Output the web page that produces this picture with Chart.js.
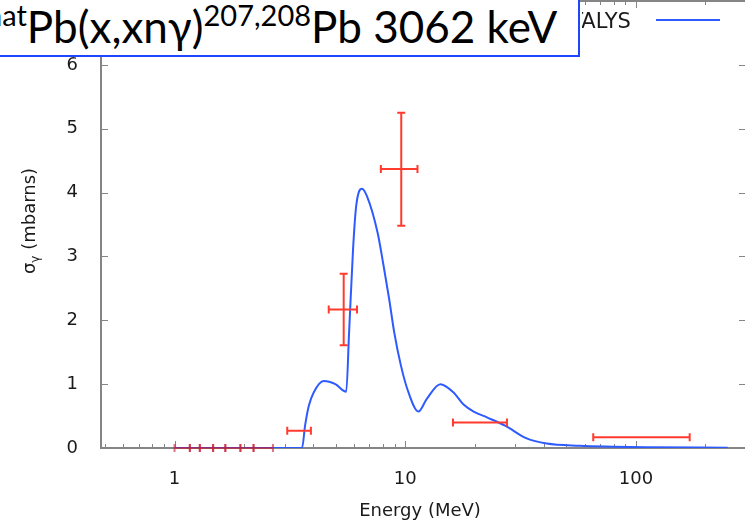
<!DOCTYPE html>
<html><head><meta charset="utf-8">
<script src="https://cdn.jsdelivr.net/npm/chart.js@4.4.0/dist/chart.umd.min.js"></script>
<style>
html,body{margin:0;padding:0;background:#fff;overflow:hidden;}
#wrap{position:relative;width:745px;height:527px;overflow:hidden;background:#fff;}
#c{position:absolute;left:0;top:0;}
#titlebox{position:absolute;left:-10px;top:-10px;width:590px;height:67px;box-sizing:border-box;border:2px solid #1f45ff;background:#fff;}
#title{position:absolute;left:-12px;top:5px;font-family:Lato,"Open Sans",sans-serif;font-size:44px;line-height:43px;white-space:nowrap;color:#000;}
.sup{font-size:29px;position:relative;top:-17px;}
</style></head>
<body>
<div id="wrap">
<canvas id="c" width="750" height="527" style="width:750px;height:527px"></canvas>
<div id="titlebox"></div>
<div id="title"><span class="sup" id="nat">nat</span>Pb(x,xnγ)<span class="sup">207,208</span>Pb 3062 keV</div>
</div>
<script>
// ---- data ----
const talysE     = [1.0, 3.57, 3.68, 3.82, 4.01, 4.43, 4.98, 5.55, 5.71, 5.94, 6.13, 6.49, 6.83, 7.59, 8.06, 8.52, 8.96, 9.58, 10.33, 11.4, 12.4, 14.2, 16.2, 17.9, 19.8, 22.6, 27.1, 33.6, 41, 57, 80, 111, 250];
const talysSigma = [0, 0, 0.35, 0.66, 0.87, 1.05, 1.0, 0.88, 1.81, 3.11, 3.79, 4.06, 3.94, 3.37, 2.85, 2.33, 1.81, 1.29, 0.87, 0.57, 0.77, 1.0, 0.87, 0.68, 0.57, 0.48, 0.35, 0.15, 0.07, 0.035, 0.02, 0.01, 0.005];

const expE       = [1.08, 1.22, 1.38, 1.56, 1.79, 2.06, 2.42, 3.47, 5.41, 9.61, 21.1, 106];
const expELo     = [1.0, 1.165, 1.287, 1.47, 1.66, 1.93, 2.2, 3.08, 4.66, 7.84, 16.1, 65.3];
const expEHi     = [1.165, 1.287, 1.47, 1.66, 1.93, 2.2, 2.67, 3.9, 6.18, 11.3, 27.6, 171];
const expSigma   = [0, 0, 0, 0, 0, 0, 0, 0.27, 2.17, 4.37, 0.40, 0.167];
const expSigLo   = [0, 0, 0, 0, 0, 0, 0, 0.27, 1.61, 3.48, 0.40, 0.167];
const expSigHi   = [0, 0, 0, 0, 0, 0, 0, 0.27, 2.73, 5.25, 0.40, 0.167];

const xTickValues = [1, 10, 100];
const yTickValues = [0, 1, 2, 3, 4, 5, 6];
const seriesName = 'TALYS';
const xTitle = 'Energy (MeV)';
const yTitleMain = 'σ', yTitleSub = 'γ', yTitleRest = ' (mbarns)';

// ---- title placement: "Pb" starts at x=27 ----
function placeTitle(){
  const nat = document.getElementById('nat');
  document.getElementById('title').style.left = (27 - nat.offsetWidth) + 'px';
}
placeTitle();
if (document.fonts && document.fonts.ready) document.fonts.ready.then(placeTitle);

const GRAY = '#858585';
const BLUE = '#2e5bff';
const RED = '#ff3b2f';

const framePlugin = {
  id: 'frame',
  beforeDatasetsDraw(chart){
    const {ctx, chartArea: a, scales: {x, y}} = chart;
    ctx.save();
    ctx.strokeStyle = GRAY; ctx.lineWidth = 2;
    ctx.strokeRect(a.left, a.top, a.right - a.left, a.bottom - a.top);
    ctx.lineWidth = 1;
    ctx.beginPath();
    for (const d of [0.1, 1, 10, 100]) {
      for (let k = 1; k <= 9; k++) {
        const v = k * d;
        if (v < x.min || v > x.max) continue;
        const px = Math.round(x.getPixelForValue(v)) + 0.5;
        const len = (k === 1) ? 7 : 4;
        ctx.moveTo(px, a.bottom); ctx.lineTo(px, a.bottom - len);
        ctx.moveTo(px, a.top); ctx.lineTo(px, a.top + len);
      }
    }
    for (const v of yTickValues) {
      const py = Math.round(y.getPixelForValue(v)) + 0.5;
      ctx.moveTo(a.left, py); ctx.lineTo(a.left + 7, py);
      ctx.moveTo(a.right, py); ctx.lineTo(a.right - 7, py);
    }
    ctx.stroke();
    ctx.restore();
  }
};

const errPlugin = {
  id: 'errbars',
  afterDatasetsDraw(chart){
    const {ctx, scales: {x, y}} = chart;
    ctx.save();
    ctx.lineWidth = 2;
    for (let i = 0; i < expE.length; i++) {
      ctx.strokeStyle = expSigma[i] === 0 ? 'rgba(200,20,40,0.6)' : RED;
      const cx = x.getPixelForValue(expE[i]);
      const cy = y.getPixelForValue(expSigma[i]);
      const x0 = x.getPixelForValue(expELo[i]);
      const x1 = x.getPixelForValue(expEHi[i]);
      const y0 = y.getPixelForValue(expSigLo[i]);
      const y1 = y.getPixelForValue(expSigHi[i]);
      ctx.beginPath();
      ctx.moveTo(x0, cy); ctx.lineTo(x1, cy);
      ctx.moveTo(x0, cy - 4); ctx.lineTo(x0, cy + 4);
      ctx.moveTo(x1, cy - 4); ctx.lineTo(x1, cy + 4);
      if (Math.abs(y1 - y0) > 1) {
        ctx.moveTo(cx, y0); ctx.lineTo(cx, y1);
        ctx.moveTo(cx - 4, y0); ctx.lineTo(cx + 4, y0);
        ctx.moveTo(cx - 4, y1); ctx.lineTo(cx + 4, y1);
      }
      ctx.stroke();
    }
    ctx.restore();
  }
};

const textPlugin = {
  id: 'texts',
  afterDraw(chart){
    const {ctx} = chart;
    ctx.save();
    ctx.fillStyle = '#1a1a1a';
    // legend (its first letter lies under the title box in the reference)
    ctx.save();
    ctx.beginPath(); ctx.rect(582, 0, 168, 60); ctx.clip();
    ctx.font = '21px "DejaVu Sans"';
    ctx.textBaseline = 'alphabetic';
    ctx.textAlign = 'left';
    const wT = ctx.measureText('T').width;
    ctx.fillText(seriesName, 583 - wT, 28);
    ctx.restore();
    ctx.strokeStyle = BLUE; ctx.lineWidth = 2;
    ctx.beginPath(); ctx.moveTo(656, 20); ctx.lineTo(720, 20); ctx.stroke();
    // x title
    ctx.font = '18px "DejaVu Sans"';
    ctx.textAlign = 'center';
    ctx.textBaseline = 'alphabetic';
    ctx.fillText(xTitle, 420, 516);
    // y title (rotated)
    ctx.translate(35, 221);
    ctx.rotate(-Math.PI / 2);
    ctx.textAlign = 'left';
    ctx.font = '18px "DejaVu Sans"';
    const wMain = ctx.measureText(yTitleMain).width;
    const wRest = ctx.measureText(yTitleRest).width;
    ctx.font = '12px "DejaVu Sans"';
    const wSub = ctx.measureText(yTitleSub).width;
    const total = wMain + wSub + wRest;
    let sx = -total / 2;
    ctx.font = '18px "DejaVu Sans"';
    ctx.fillText(yTitleMain, sx, 0); sx += wMain;
    ctx.font = '12px "DejaVu Sans"';
    ctx.fillText(yTitleSub, sx, 4); sx += wSub;
    ctx.font = '18px "DejaVu Sans"';
    ctx.fillText(yTitleRest, sx, 0);
    ctx.restore();
  }
};

new Chart(document.getElementById('c'), {
  type: 'line',
  data: {
    datasets: [
      {
        label: seriesName,
        data: talysE.map((e, i) => ({x: e, y: talysSigma[i]})),
        borderColor: BLUE, borderWidth: 2, pointRadius: 0,
        cubicInterpolationMode: 'monotone', fill: false
      },
      {
        label: 'data',
        data: expE.map((e, i) => ({x: e, y: expSigma[i]})),
        showLine: false, pointRadius: 0, borderColor: RED
      }
    ]
  },
  options: {
    responsive: false, animation: false, devicePixelRatio: 1,
    layout: {padding: {top: 1, right: 4, left: 0, bottom: 0}},
    plugins: {legend: {display: false}, tooltip: {enabled: false}},
    scales: {
      x: {
        type: 'logarithmic', min: 0.48, max: 300,
        grid: {display: false}, border: {display: false},
        afterBuildTicks: s => { s.ticks = xTickValues.map(v => ({value: v})); },
        ticks: {font: {family: 'DejaVu Sans', size: 18}, color: '#1a1a1a', padding: 13,
                autoSkip: false, maxRotation: 0, callback: v => String(v)},
        afterFit: s => { s.height = 79; s.paddingLeft = 0; s.paddingRight = 0; }
      },
      y: {
        min: 0, max: 7,
        grid: {display: false}, border: {display: false},
        afterBuildTicks: s => { s.ticks = yTickValues.map(v => ({value: v})); },
        ticks: {font: {family: 'DejaVu Sans', size: 18}, color: '#1a1a1a', padding: 15,
                callback: v => String(v)},
        afterFit: s => { s.width = 101; s.paddingTop = 0; s.paddingBottom = 0; }
      }
    }
  },
  plugins: [framePlugin, errPlugin, textPlugin]
});
</script>
</body></html>
